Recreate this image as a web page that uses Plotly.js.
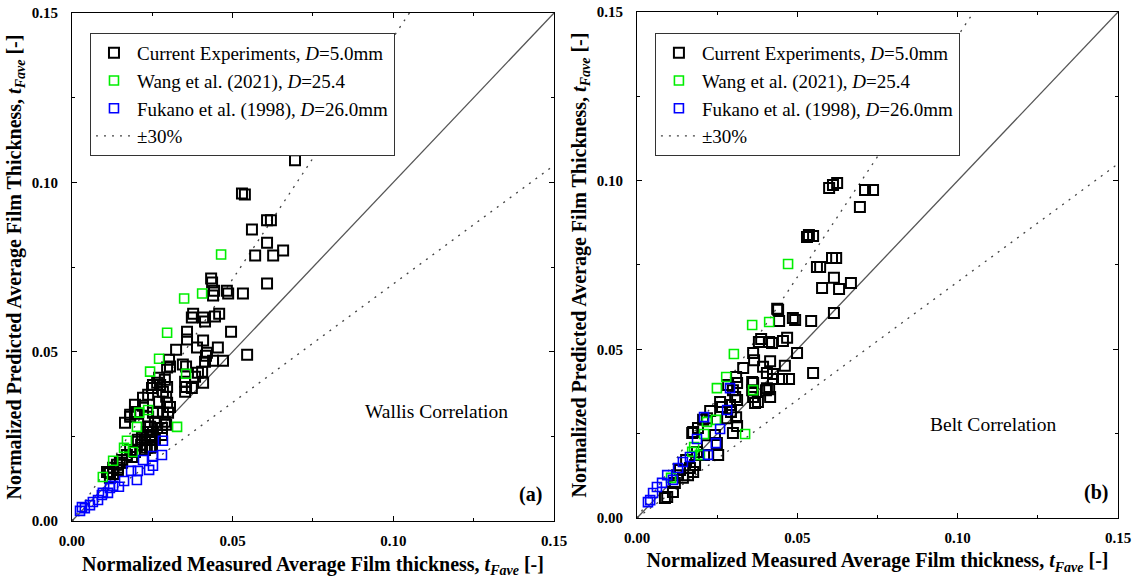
<!DOCTYPE html>
<html><head><meta charset="utf-8">
<script src="https://cdn.plot.ly/plotly-3.0.1.min.js"></script>
<style>html,body{margin:0;padding:0;background:#fff}#chart{width:1139px;height:583px}</style>
</head><body><div id="chart"></div>
<script>
// ---------- Panel (a) Wallis correlation ----------
const wallisCurX = [0.0591,0.0616,0.0703,0.0731,0.0694,0.0529,0.0538,0.0607,0.0619,0.0560,0.0607,0.0657,0.0570,0.0626,0.0607,
 0.0433,0.0436,0.0442,0.0482,0.0486,0.0532,0.0439,0.0377,0.0373,0.0408,0.0414,0.0445,0.0458,0.0495,0.0358,0.0358,0.0389,0.0408,
 0.0324,0.0454,0.0417,0.0420,0.0414,0.0439,0.0470,0.0545,0.0302,0.0296,0.0305,0.0345,0.0355,0.0405,0.0408,0.0383,0.0392,0.0271,
 0.0265,0.0249,0.0289,0.0296,0.0283,0.0293,0.0352,0.0355,0.0352,0.0373,0.0221,0.0221,0.0271,0.0296,0.0196,0.0202,0.0252,0.0265,
 0.0258,0.0283,0.0289,0.0305,0.0165,0.0181,0.0237,0.0265,0.0280,0.0293,0.0181,0.0196,0.0237,0.0252,0.0274,0.0299,0.0237,0.0243,
 0.0233,0.0218,0.0205,0.0218,0.0280,0.0243,0.0258,0.0249,0.0181,0.0196,0.0187,0.0171,0.0156,0.0149,0.0140,0.0128,0.0109,0.0118,
 0.0143,0.0227,0.0243,0.0202,0.0227,0.0215,0.0233,0.0252,0.0243,0.0156,0.0143,0.0112,0.0118,0.0128];
const wallisCurY = [0.1136,0.1142,0.1127,0.1127,0.1065,0.0967,0.0964,0.0888,0.0888,0.0861,0.0822,0.0799,0.0784,0.0784,0.0701,
 0.0716,0.0704,0.0680,0.0680,0.0672,0.0672,0.0666,0.0612,0.0601,0.0601,0.0589,0.0604,0.0612,0.0559,0.0559,0.0536,0.0512,0.0533,
 0.0506,0.0512,0.0488,0.0497,0.0470,0.0473,0.0473,0.0491,0.0476,0.0453,0.0456,0.0462,0.0456,0.0441,0.0408,0.0426,0.0438,0.0423,
 0.0408,0.0393,0.0417,0.0396,0.0382,0.0367,0.0411,0.0396,0.0382,0.0393,0.0364,0.0340,0.0352,0.0349,0.0343,0.0317,0.0320,0.0320,
 0.0293,0.0320,0.0293,0.0337,0.0290,0.0308,0.0278,0.0275,0.0275,0.0284,0.0314,0.0322,0.0373,0.0402,0.0402,0.0320,0.0308,0.0278,
 0.0263,0.0246,0.0240,0.0225,0.0254,0.0254,0.0240,0.0219,0.0210,0.0204,0.0189,0.0195,0.0180,0.0172,0.0166,0.0157,0.0145,0.0142,
 0.0157,0.0210,0.0216,0.0234,0.0240,0.0225,0.0216,0.0263,0.0240,0.0172,0.0151,0.0145,0.0128,0.0139];
const wallisWangX = [0.0464,0.0405,0.0349,0.0296,0.0271,0.0243,0.0355,0.0237,0.0209,0.0202,0.0327,0.0171,0.0162,0.0190,0.0096,0.0128];
const wallisWangY = [0.0787,0.0672,0.0657,0.0556,0.0479,0.0441,0.0435,0.0328,0.0320,0.0278,0.0278,0.0237,0.0216,0.0204,0.0130,0.0178];
const wallisFukX = [0.0283,0.0252,0.0280,0.0221,0.0252,0.0240,0.0184,0.0205,0.0202,0.0162,0.0146,0.0128,0.0112,0.0093,0.0081,
 0.0065,0.0056,0.0040,0.0025,0.0031,0.0118,0.0096];
const wallisFukY = [0.0237,0.0192,0.0195,0.0180,0.0163,0.0151,0.0148,0.0148,0.0121,0.0118,0.0101,0.0104,0.0083,0.0077,0.0062,
 0.0056,0.0047,0.0038,0.0030,0.0041,0.0098,0.0083];

// ---------- Panel (b) Belt correlation ----------
const beltCurX = [0.0599,0.0611,0.0624,0.0711,0.0736,0.0695,0.0530,0.0536,0.0549,0.0608,0.0621,0.0561,0.0571,0.0614,0.0667,0.0577,
 0.0630,0.0614,0.0499,0.0549,0.0474,0.0452,0.0461,0.0443,0.0440,0.0437,0.0486,0.0493,0.0543,0.0387,0.0380,0.0412,0.0421,0.0455,
 0.0468,0.0362,0.0365,0.0415,0.0393,0.0331,0.0309,0.0312,0.0359,0.0362,0.0405,0.0424,0.0424,0.0412,0.0415,0.0359,0.0362,0.0368,
 0.0377,0.0402,0.0405,0.0284,0.0299,0.0306,0.0312,0.0259,0.0265,0.0290,0.0293,0.0309,0.0312,0.0299,0.0228,0.0218,0.0206,0.0175,
 0.0172,0.0190,0.0243,0.0249,0.0218,0.0209,0.0187,0.0253,0.0153,0.0134,0.0125,0.0118,0.0112,0.0094,0.0087,0.0143,0.0165,0.0159,
 0.0181,0.0175,0.0281];
const beltCurY = [0.0978,0.0987,0.0993,0.0972,0.0972,0.0922,0.0833,0.0839,0.0836,0.0771,0.0771,0.0744,0.0744,0.0712,0.0697,0.0682,
 0.0679,0.0608,0.0489,0.0430,0.0412,0.0412,0.0451,0.0584,0.0617,0.0620,0.0593,0.0587,0.0584,0.0531,0.0522,0.0522,0.0519,0.0525,
 0.0534,0.0489,0.0468,0.0465,0.0448,0.0445,0.0418,0.0400,0.0403,0.0400,0.0430,0.0427,0.0412,0.0382,0.0359,0.0379,0.0359,0.0341,
 0.0344,0.0379,0.0385,0.0394,0.0379,0.0359,0.0350,0.0344,0.0329,0.0335,0.0314,0.0299,0.0273,0.0252,0.0317,0.0296,0.0291,0.0255,
 0.0252,0.0267,0.0246,0.0222,0.0216,0.0187,0.0196,0.0187,0.0172,0.0142,0.0127,0.0104,0.0077,0.0062,0.0059,0.0119,0.0148,0.0127,
 0.0157,0.0136,0.0296];
const beltWangX = [0.0471,0.0359,0.0412,0.0302,0.0278,0.0249,0.0362,0.0246,0.0218,0.0337,0.0209,0.0178,0.0172,0.0196,0.0106];
const beltWangY = [0.0753,0.0572,0.0581,0.0486,0.0418,0.0385,0.0379,0.0291,0.0285,0.0249,0.0249,0.0210,0.0196,0.0187,0.0119];
const beltFukX = [0.0290,0.0281,0.0259,0.0246,0.0221,0.0187,0.0209,0.0165,0.0143,0.0128,0.0112,0.0094,0.0078,0.0062,0.0050,0.0041,0.0034];
const beltFukY = [0.0385,0.0320,0.0264,0.0222,0.0187,0.0234,0.0299,0.0181,0.0166,0.0148,0.0113,0.0127,0.0104,0.0092,0.0074,0.0053,0.0047];

// ---------- reference lines ----------
const lineX = [0, 0.15];
const bandFactors = [1/0.7, 0.7];   // ±30% lines
const seriesNames = ['Current Experiments, <i>D</i>=5.0mm', 'Wang et al. (2021), <i>D</i>=25.4', 'Fukano et al. (1998), <i>D</i>=26.0mm', '±30%'];
const seriesColors = ['#000000', '#00ee00', '#0000ff'];
const panelNotes = ['Wallis Correlation', 'Belt Correlation'];
const panelLabels = ['(a)', '(b)'];

const FONT = 'Liberation Serif, Times New Roman, serif';

function panelTraces(xa, ya, leg, sets) {
  const tr = [];
  tr.push({x: lineX, y: lineX.slice(), xaxis: xa, yaxis: ya, mode: 'lines', showlegend: false,
           line: {color: '#555', width: 1.3}, hoverinfo: 'skip'});
  const bx = [], by = [];
  bandFactors.forEach((f, i) => { if (i) { bx.push(null); by.push(null); } lineX.forEach(v => { bx.push(v); by.push(v * f); }); });
  tr.push({x: bx, y: by, xaxis: xa, yaxis: ya, mode: 'lines', name: seriesNames[3], legend: leg, legendrank: 4,
           line: {color: '#444', width: 1.3, dash: '2px,6px'}, connectgaps: false});
  sets.forEach((s, i) => {
    tr.push({x: s[0], y: s[1], xaxis: xa, yaxis: ya, mode: 'markers', type: 'scatter', name: seriesNames[i],
             legend: leg, legendrank: i + 1,
             marker: {symbol: 'square-open', size: i === 0 ? 10 : 9, color: seriesColors[i],
                      line: {width: i === 0 ? 2 : 1.6, color: seriesColors[i]}}});
  });
  return tr;
}

const data = [].concat(
  panelTraces('x', 'y', 'legend', [[wallisCurX, wallisCurY], [wallisWangX, wallisWangY], [wallisFukX, wallisFukY]]),
  panelTraces('x2', 'y2', 'legend2', [[beltCurX, beltCurY], [beltWangX, beltWangY], [beltFukX, beltFukY]])
);

const xTitle = 'Normalized Measured Average Film thickness, <i>t</i><sub><i>Fave</i></sub> [-]';
const yTitle = 'Normalized Predicted Average Film Thickness, <i>t</i><sub><i>Fave</i></sub> [-]';

function axis(domain, anchor, title, isY) {
  return {
    domain: domain, anchor: anchor, range: [0, 0.15], tick0: 0, dtick: 0.05, tickformat: '.2f',
    ticks: 'inside', ticklen: 5, tickwidth: 1, tickcolor: '#000',
    minor: {dtick: 0.025, ticks: 'inside', ticklen: 3, tickcolor: '#000'},
    showline: true, linecolor: '#000', linewidth: 1, mirror: 'ticks',
    showgrid: false, zeroline: false, automargin: false,
    ticklabelstandoff: isY ? 10 : 6,
    tickfont: {family: FONT, size: 15, color: '#000', weight: 'bold'},
    title: {text: title, font: {family: FONT, size: 20, color: '#000', weight: 'bold'}, standoff: isY ? 4 : 8}
  };
}

const legendBase = {
  yanchor: 'top', xanchor: 'left', y: 0.9434, bgcolor: '#fff', bordercolor: '#333', borderwidth: 1,
  font: {family: FONT, size: 19, color: '#000'}, tracegroupgap: 0, itemwidth: 36
};

function note(xr, yr, x, y, text, size) {
  return {xref: xr, yref: yr, x: x, y: y, xanchor: 'center', yanchor: 'middle', text: text, showarrow: false,
          font: {family: FONT, size: size, color: '#000'}};
}

const layout = {
  width: 1139, height: 583, margin: {l: 0, r: 0, t: 0, b: 0},
  paper_bgcolor: '#fff', plot_bgcolor: '#fff',
  xaxis: axis([0.0632, 0.4864], 'y', xTitle, false),
  yaxis: axis([0.1063, 0.9777], 'x', yTitle, true),
  xaxis2: axis([0.5593, 0.9816], 'y2', xTitle, false),
  yaxis2: axis([0.1115, 0.9794], 'x2', yTitle, true),
  legend: Object.assign({x: 0.079}, legendBase),
  legend2: Object.assign({x: 0.575}, legendBase),
  annotations: [
    note('x domain', 'y domain', 0.757, 0.215, panelNotes[0], 19.5),
    note('x domain', 'y domain', 0.952, 0.053, '<b>' + panelLabels[0] + '</b>', 20),
    note('x2 domain', 'y2 domain', 0.740, 0.184, panelNotes[1], 19.5),
    note('x2 domain', 'y2 domain', 0.954, 0.051, '<b>' + panelLabels[1] + '</b>', 20)
  ],
  showlegend: true
};

Plotly.newPlot('chart', data, layout, {displayModeBar: false, staticPlot: true});
</script></body></html>
